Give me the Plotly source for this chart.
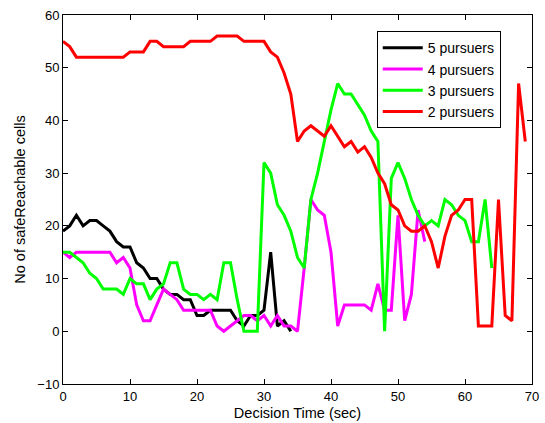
import plotly.graph_objects as go

# Decision time (sec) index for each series
p5 = [19, 20, 22, 20, 21, 21, 20, 19, 17, 16, 16, 13, 12, 10, 10, 8, 7, 7, 6, 6,
      3, 3, 4, 4, 4, 4, 2, 1, 3, 3, 4, 15, 1, 2, 0]
p4 = [15, 14, 15, 15, 15, 15, 15, 15, 13, 14, 12, 5, 2, 2, 5, 8, 7, 6, 4, 4,
      4, 4, 4, 1, 0, 1, 2, 3, 3, 2, 3, 1, 3, 1, 1, 0, 12, 25, 23, 22,
      15, 1, 5, 5, 5, 5, 4, 9, 4, 4, 22, 2, 7, 23, 17]
p3 = [15, 15, 14, 13, 11, 10, 8, 8, 8, 7, 10, 9, 9, 6, 8, 9, 13, 13, 8, 7,
      7, 6, 7, 6, 13, 13, 6, 0, 0, 0, 32, 30, 24, 22, 19, 14, 12, 25, 30, 36,
      42, 47, 45, 45, 43, 41, 38, 36, 0, 29, 32, 29, 25, 22, 20, 21, 20, 25, 24, 22,
      21, 17, 17, 25, 12]
p2 = [55, 54, 52, 52, 52, 52, 52, 52, 52, 52, 53, 53, 53, 55, 55, 54, 54, 54, 54, 55,
      55, 55, 55, 56, 56, 56, 56, 55, 55, 55, 55, 53, 52, 49, 45, 36, 38, 39, 38, 37,
      39, 37, 35, 36, 34, 35, 33, 30, 28, 24, 23, 20, 19, 19, 20, 17, 12, 18, 22, 23,
      25, 25, 1, 1, 1, 25, 3, 2, 47, 36]

series = [
    ("5 pursuers", p5, "#000000"),
    ("4 pursuers", p4, "#ff00ff"),
    ("3 pursuers", p3, "#00ff00"),
    ("2 pursuers", p2, "#ff0000"),
]

x_ticks = [0, 10, 20, 30, 40, 50, 60, 70]
y_ticks = [-10, 0, 10, 20, 30, 40, 50, 60]

fig = go.Figure()
for name, vals, color in series:
    fig.add_trace(go.Scatter(
        x=list(range(len(vals))), y=vals, mode="lines", name=name,
        line=dict(color=color, width=3),
    ))

font = "Liberation Sans, Arial, Helvetica, sans-serif"
axis_common = dict(
    showgrid=False, zeroline=False, showline=True, linecolor="black", linewidth=1,
    mirror="ticks", ticks="inside", ticklen=5, tickcolor="black", automargin=False,
    tickfont=dict(family=font, size=13, color="black"),
)
fig.update_layout(
    width=545, height=423,
    margin=dict(l=63, r=13, t=15, b=39),
    paper_bgcolor="white", plot_bgcolor="white",
    font=dict(family=font, color="black"),
    xaxis=dict(range=[0, 70], tickvals=x_ticks,
               title=dict(text="Decision Time (sec)", font=dict(size=14.5), standoff=5),
               **axis_common),
    yaxis=dict(range=[-10, 60], tickvals=y_ticks,
               title=dict(text="No of safeReachable cells", font=dict(size=14.5), standoff=8),
               **axis_common),
    legend=dict(x=0.669, y=0.956, xanchor="left", yanchor="top",
                bordercolor="black", borderwidth=1, bgcolor="white",
                font=dict(family=font, size=14, color="black"),
                itemwidth=40, tracegroupgap=0),
    showlegend=True,
)
fig.write_html(
    "out.html",
    config={"displayModeBar": False},
    post_script="document.body.style.margin='0';document.body.style.overflow='hidden';",
)
